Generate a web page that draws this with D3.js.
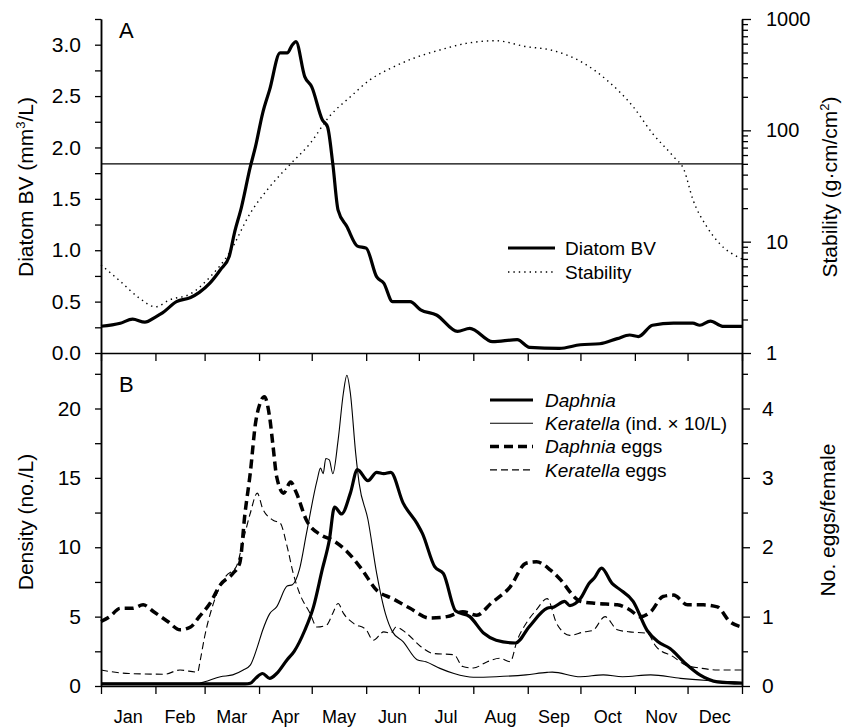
<!DOCTYPE html>
<html>
<head>
<meta charset="utf-8">
<script src="https://cdn.jsdelivr.net/npm/d3@7"></script>
<style>
body { margin: 0; background: #fff; }
svg { font-family: "Liberation Sans", Arial, Helvetica, sans-serif; }
</style>
</head>
<body>
<div id="chart"></div>
<script>
// month labels and lengths (day-of-year x axis)
var months = ["Jan", "Feb", "Mar", "Apr", "May", "Jun", "Jul", "Aug", "Sep", "Oct", "Nov", "Dec"];
var monthDays = [31, 28, 31, 30, 31, 30, 31, 31, 30, 31, 30, 31];

// panel A: [day, value]
var diatomBV = [[0,0.26],[11,0.29],[18,0.33],[25,0.30],[31,0.35],[35,0.39],[43,0.50],[51,0.54],[56,0.59],[62,0.68],[68,0.81],[73,0.94],[76,1.17],[80,1.42],[85,1.81],[88,2.01],[92,2.33],[96,2.56],[102,2.92],[106,2.92],[109,3.0],[111,3.03],[116,2.69],[120,2.59],[126,2.27],[129,2.20],[132,1.84],[135,1.39],[140,1.23],[146,1.04],[151,1.02],[157,0.74],[161,0.68],[166,0.50],[176,0.50],[182,0.42],[191,0.37],[203,0.21],[210,0.24],[223,0.11],[237,0.13],[244,0.055],[261,0.045],[273,0.08],[284,0.09],[294,0.14],[301,0.175],[306,0.16],[314,0.27],[326,0.29],[337,0.29],[341,0.27],[347,0.31],[354,0.26],[365,0.26]];
var stability = [[0,6.2],[11,4.4],[22,3.1],[31,2.6],[39,3.0],[51,3.4],[62,4.8],[73,7.9],[85,18],[96,31],[108,50],[119,76],[130,133],[142,200],[153,283],[165,361],[178,444],[193,527],[208,604],[225,638],[242,565],[256,527],[275,400],[288,283],[303,163],[314,94],[326,58],[332,44],[337,24],[345,13.6],[352,9.7],[365,7.0]];
var stabilityLine = 50;

// panel B: density (no./L) and eggs per female
var daphnia = [[0,0.15],[56,0.15],[82,0.15],[85,0.2],[88,0.55],[92,0.9],[96,0.55],[100,0.9],[106,1.9],[110,2.5],[116,4.0],[121,5.7],[126,8.4],[130,10.5],[133,12.9],[137,12.4],[142,13.9],[146,15.6],[152,14.8],[157,15.4],[161,15.3],[165,15.4],[172,13.2],[180,11.7],[183,11.0],[190,8.6],[195,8.1],[202,5.4],[210,5.0],[218,3.8],[225,3.3],[236,3.1],[244,4.3],[254,5.6],[258,5.7],[264,6.1],[267,5.8],[273,6.3],[278,7.4],[281,7.8],[285,8.5],[291,7.4],[295,7.0],[303,6.1],[311,4.0],[317,3.2],[324,2.7],[333,1.6],[341,0.8],[351,0.3],[365,0.2]];
var keratella = [[0,0.2],[56,0.2],[59,0.3],[68,0.67],[75,0.8],[81,1.15],[85,1.5],[89,2.8],[92,4.0],[96,5.2],[100,5.7],[106,7.2],[109,7.3],[113,8.4],[117,11.0],[123,14.8],[125,15.7],[126.5,15.3],[128,16.4],[130,16.3],[132,15.3],[135,17.7],[138,21.1],[140,22.4],[142,21.1],[145,16.8],[147,14.6],[152,12.0],[157,8.1],[162,5.2],[166,3.9],[172,3.2],[180,1.9],[185,1.75],[193,1.27],[201,0.9],[212,0.63],[225,0.67],[242,0.8],[254,0.98],[257,1.0],[273,0.67],[286,0.8],[297,0.67],[313,0.8],[330,0.55],[345,0.4],[365,0.27]];
var daphniaEggs = [[0,0.93],[5,1.0],[11,1.12],[18,1.12],[24,1.17],[30,1.07],[38,0.93],[45,0.81],[51,0.85],[56,1.0],[62,1.19],[68,1.46],[75,1.62],[79,1.77],[82,2.49],[85,3.07],[88,3.79],[90.5,4.07],[93,4.17],[96,3.88],[98,3.45],[100,3.02],[104,2.78],[108,2.94],[111,2.80],[117,2.39],[125,2.18],[132,2.10],[140,1.94],[148,1.70],[157,1.38],[166,1.26],[176,1.12],[187,0.98],[197,1.0],[206,1.07],[214,1.02],[222,1.19],[233,1.43],[242,1.77],[248,1.79],[256,1.67],[261,1.55],[273,1.22],[282,1.19],[294,1.17],[301,1.10],[307,1.0],[313,1.07],[320,1.29],[326,1.31],[334,1.17],[343,1.17],[351,1.14],[358,0.93],[365,0.85]];
var keratellaEggs = [[0,0.23],[16,0.18],[36,0.17],[45,0.23],[55,0.2],[56.5,0.37],[59,0.71],[64,1.19],[71,1.58],[77,1.72],[81,2.1],[85,2.49],[89,2.78],[92,2.56],[98,2.39],[102,2.35],[106,2.01],[109.5,1.62],[113,1.34],[119,1.05],[123,0.85],[128.5,0.88],[132,1.05],[135,1.19],[138,1.05],[144,0.90],[151,0.81],[155,0.66],[161,0.78],[165,0.76],[168,0.85],[174,0.76],[182,0.57],[189,0.47],[201,0.45],[206,0.28],[212,0.26],[220,0.35],[227,0.40],[233,0.35],[237,0.66],[242,0.90],[248,1.10],[254,1.26],[259.5,0.9],[267,0.73],[275,0.78],[280,0.8],[287,1.0],[294,0.81],[301,0.78],[311,0.76],[316,0.57],[326,0.42],[333,0.30],[341,0.26],[351,0.23],[365,0.23]];

// tick values
var diatomTicks = [0, 0.5, 1.0, 1.5, 2.0, 2.5, 3.0];
var diatomMinor = [0.25, 0.75, 1.25, 1.75, 2.25, 2.75, 3.25];
var stabilityTicks = [1, 10, 100, 1000];
var densityTicks = [0, 5, 10, 15, 20];
var densityMinor = [2.5, 7.5, 12.5, 17.5, 22.5];
var eggTicks = [0, 1, 2, 3, 4];
var eggMinor = [0.5, 1.5, 2.5, 3.5, 4.5];

var left = 101, right = 742;
var topA = 19, midY = 353, botB = 686;

var svg = d3.select("#chart")
    .append("svg")
    .attr("width", 842)
    .attr("height", 727);

var monthStarts = [0];
monthDays.forEach(function(n, i) { monthStarts.push(monthStarts[i] + n); });
var monthMids = months.map(function(m, i) { return monthStarts[i] + monthDays[i] / 2; });

var x = d3.scaleLinear().domain([0, 365]).range([left, right]);
var yA = d3.scaleLinear().domain([0, 3.25]).range([midY, topA]);
var yS = d3.scaleLog().domain([1, 1000]).range([midY, topA]);
var yB = d3.scaleLinear().domain([0, 24]).range([botB, midY]);
var yE = d3.scaleLinear().domain([0, 4.8]).range([botB, midY]);

function styleAxis(g, fontSize) {
    g.select(".domain").attr("stroke", "#000").attr("stroke-width", 1.5);
    g.selectAll(".tick line").attr("stroke", "#000").attr("stroke-width", 1.3);
    g.selectAll(".tick text")
        .attr("fill", "#000")
        .attr("font-size", fontSize + "px")
        .attr("font-family", "Liberation Sans, Arial, sans-serif");
}

function addAxis(axis, tx, ty, fontSize) {
    var g = svg.append("g")
        .attr("transform", "translate(" + tx + "," + ty + ")")
        .call(axis);
    styleAxis(g, fontSize || 21);
    return g;
}

// panel A axes
addAxis(d3.axisLeft(yA).tickValues(diatomMinor).tickFormat("").tickSize(6).tickSizeOuter(0), left, 0);
addAxis(d3.axisLeft(yA).tickValues(diatomTicks).tickFormat(d3.format(".1f")).tickSize(6).tickPadding(14).tickSizeOuter(0), left, 0);

var stabMinor = [];
[1, 10, 100].forEach(function(b) { for (var k = 2; k <= 9; k++) stabMinor.push(b * k); });
addAxis(d3.axisRight(yS).tickValues(stabMinor).tickFormat("").tickSize(6).tickSizeOuter(0), right, 0);
addAxis(d3.axisRight(yS).tickValues(stabilityTicks).tickFormat(d3.format("d")).tickSize(9).tickPadding(15).tickSizeOuter(0), right, 0, 20);

// panel B axes
addAxis(d3.axisLeft(yB).tickValues(densityMinor).tickFormat("").tickSize(6).tickSizeOuter(0), left, 0);
addAxis(d3.axisLeft(yB).tickValues(densityTicks).tickFormat(d3.format("d")).tickSize(6).tickPadding(14).tickSizeOuter(0), left, 0);
addAxis(d3.axisRight(yE).tickValues(eggMinor).tickFormat("").tickSize(6).tickSizeOuter(0), right, 0);
addAxis(d3.axisRight(yE).tickValues(eggTicks).tickFormat(d3.format("d")).tickSize(8).tickPadding(12).tickSizeOuter(0), right, 0);

// month axes (ticks under both panels)
addAxis(d3.axisBottom(x).tickValues(monthStarts).tickFormat("").tickSize(8).tickSizeOuter(0), 0, midY);
addAxis(d3.axisBottom(x).tickValues(monthStarts).tickFormat("").tickSize(8).tickSizeOuter(0), 0, botB);

svg.selectAll(".month")
    .data(months)
    .enter()
    .append("text")
    .attr("class", "month")
    .attr("x", function(d, i) { return x(monthMids[i]); })
    .attr("y", 723)
    .attr("text-anchor", "middle")
    .attr("font-size", "18px")
    .text(function(d) { return d; });

// panel A lines
svg.append("line")
    .attr("x1", left).attr("x2", right)
    .attr("y1", yS(stabilityLine)).attr("y2", yS(stabilityLine))
    .attr("stroke", "#000")
    .attr("stroke-width", 1.2);

function lineGen(ys) {
    return d3.line()
        .x(function(d) { return x(d[0]); })
        .y(function(d) { return ys(d[1]); })
        .curve(d3.curveMonotoneX);
}

var styles = {
    diatom: { w: 3.2, dash: null },
    stability: { w: 1.4, dash: "1.4 4" },
    daphnia: { w: 3.2, dash: null },
    keratella: { w: 1.1, dash: null },
    daphniaEggs: { w: 3.5, dash: "9 5" },
    keratellaEggs: { w: 1.1, dash: "7 4" }
};

function drawLine(data, ys, st) {
    svg.append("path")
        .datum(data)
        .attr("fill", "none")
        .attr("stroke", "#000")
        .attr("stroke-width", st.w)
        .attr("stroke-dasharray", st.dash)
        .attr("stroke-linejoin", "round")
        .attr("d", lineGen(ys));
}

drawLine(stability, yS, styles.stability);
drawLine(diatomBV, yA, styles.diatom);

drawLine(keratellaEggs, yE, styles.keratellaEggs);
drawLine(daphniaEggs, yE, styles.daphniaEggs);
drawLine(keratella, yB, styles.keratella);
drawLine(daphnia, yB, styles.daphnia);

// panel letters
svg.append("text").attr("x", 119).attr("y", 38).attr("font-size", "22px").text("A");
svg.append("text").attr("x", 119).attr("y", 392).attr("font-size", "22px").text("B");

// axis titles
var t1 = svg.append("text")
    .attr("transform", "translate(33,187) rotate(-90)")
    .attr("text-anchor", "middle")
    .attr("font-size", "21px");
t1.append("tspan").text("Diatom BV (mm");
t1.append("tspan").attr("font-size", "13px").attr("dy", "-8").text("3");
t1.append("tspan").attr("dy", "8").text("/L)");

var t2 = svg.append("text")
    .attr("transform", "translate(837,187) rotate(-90)")
    .attr("text-anchor", "middle")
    .attr("font-size", "21px");
t2.append("tspan").text("Stability (g\u00b7cm/cm");
t2.append("tspan").attr("font-size", "13px").attr("dy", "-8").text("2");
t2.append("tspan").attr("dy", "8").text(")");

svg.append("text")
    .attr("transform", "translate(33,522) rotate(-90)")
    .attr("text-anchor", "middle")
    .attr("font-size", "21px")
    .text("Density (no./L)");

svg.append("text")
    .attr("transform", "translate(835,520) rotate(-90)")
    .attr("text-anchor", "middle")
    .attr("font-size", "21px")
    .text("No. eggs/female");

// legend A
var legA = [
    { label: "Diatom BV", st: styles.diatom },
    { label: "Stability", st: styles.stability }
];
legA.forEach(function(d, i) {
    var yy = 248 + i * 24;
    svg.append("line")
        .attr("x1", 508).attr("x2", 555)
        .attr("y1", yy).attr("y2", yy)
        .attr("stroke", "#000")
        .attr("stroke-width", d.st.w)
        .attr("stroke-dasharray", d.st.dash);
    svg.append("text")
        .attr("x", 565).attr("y", yy)
        .attr("dy", "0.35em")
        .attr("font-size", "19px")
        .text(d.label);
});

// legend B
var legB = [
    { it: "Daphnia", rest: "", st: styles.daphnia },
    { it: "Keratella", rest: " (ind. \u00d7 10/L)", st: styles.keratella },
    { it: "Daphnia", rest: " eggs", st: styles.daphniaEggs },
    { it: "Keratella", rest: " eggs", st: styles.keratellaEggs }
];
legB.forEach(function(d, i) {
    var yy = 400 + i * 23.3;
    svg.append("line")
        .attr("x1", 490).attr("x2", 533)
        .attr("y1", yy).attr("y2", yy)
        .attr("stroke", "#000")
        .attr("stroke-width", d.st.w)
        .attr("stroke-dasharray", d.st.dash);
    var t = svg.append("text")
        .attr("x", 545).attr("y", yy)
        .attr("dy", "0.35em")
        .attr("font-size", "19px");
    t.append("tspan").attr("font-style", "italic").text(d.it);
    t.append("tspan").text(d.rest);
});
</script>
</body>
</html>
